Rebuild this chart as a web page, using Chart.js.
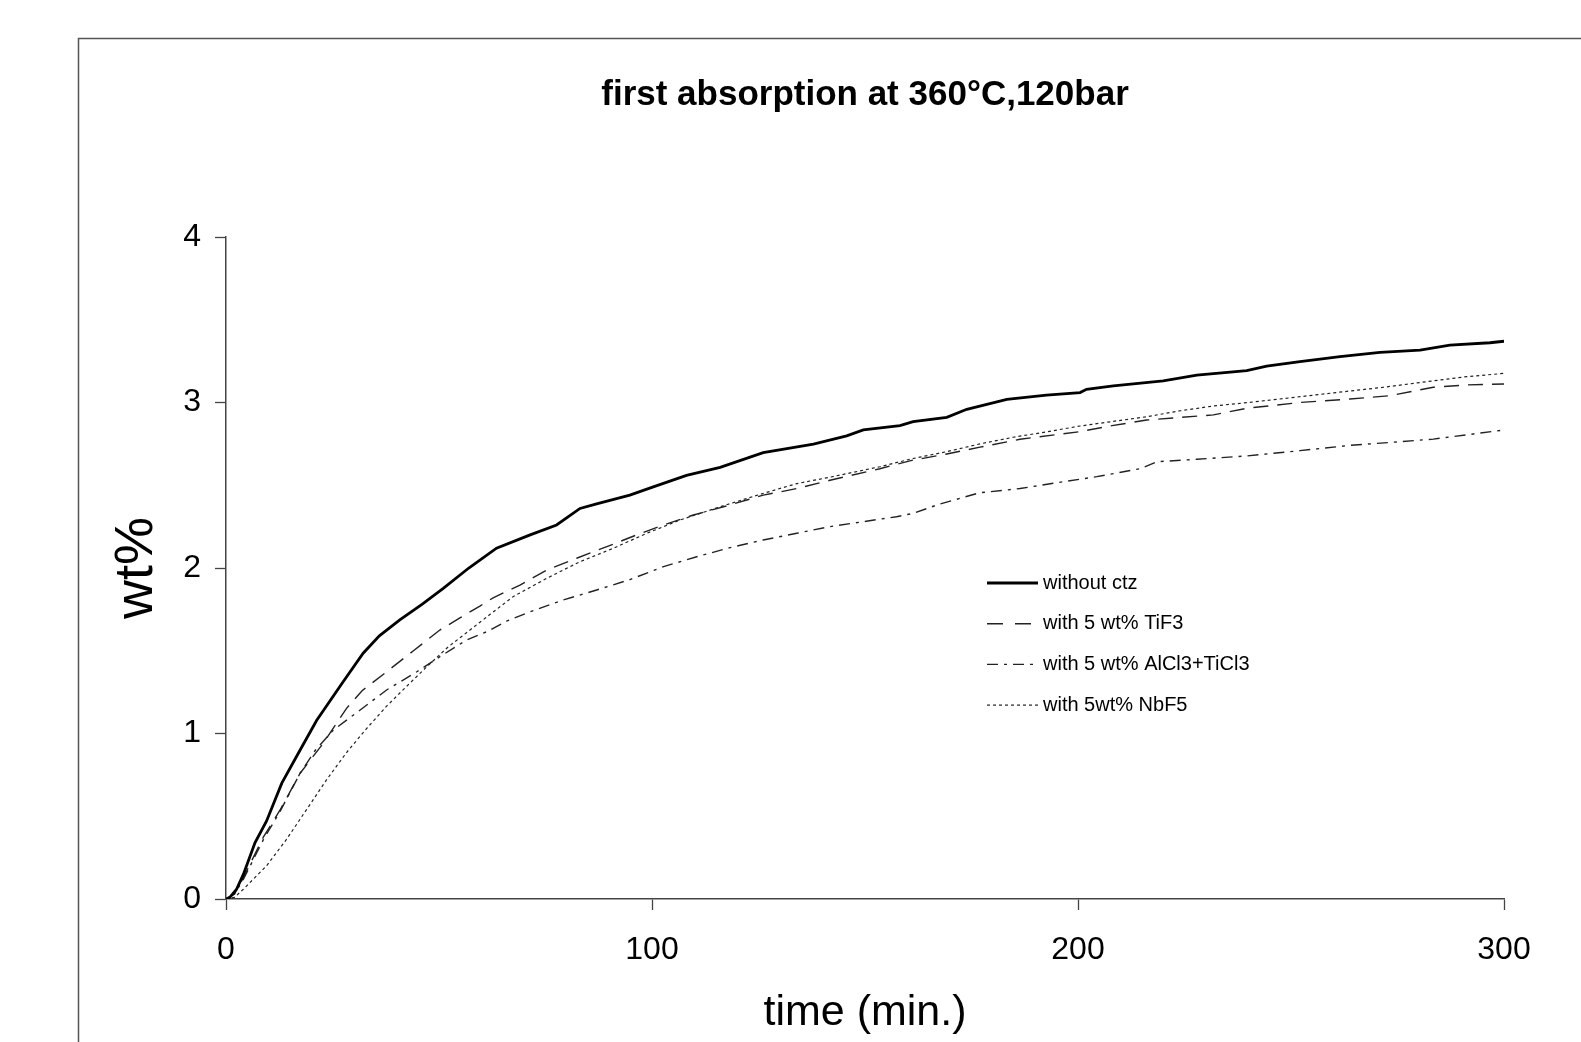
<!DOCTYPE html>
<html>
<head>
<meta charset="utf-8">
<script src="https://cdn.jsdelivr.net/npm/chart.js@4.4.1/dist/chart.umd.min.js"></script>
<style>
  html, body { margin: 0; padding: 0; background: #fff; }
  canvas { display: block; }
</style>
</head>
<body>
<canvas id="chart" width="1581" height="1042"></canvas>
<script>
// series labels, same order as the legend
const seriesLabels = ['without ctz', 'with 5 wt% TiF3', 'with 5 wt% AlCl3+TiCl3', 'with 5wt% NbF5'];

// [time (min.), wt%]
const withoutCtz = [
  [0, 0], [0.9, 0.01], [2.5, 0.06], [4.1, 0.15], [6.8, 0.34], [9.5, 0.47], [13.1, 0.70],
  [17.4, 0.90], [21.3, 1.08], [27.5, 1.313], [32.2, 1.485], [36, 1.59], [40.8, 1.686],
  [46, 1.78], [51, 1.877], [57, 2.0], [63.5, 2.12], [71.4, 2.20], [77.6, 2.26], [83.1, 2.36],
  [87, 2.387], [94.8, 2.44], [100.3, 2.49], [108.1, 2.56], [116, 2.608], [126.1, 2.697],
  [137.9, 2.749], [145.7, 2.798], [149.6, 2.834], [158.2, 2.86], [161.3, 2.884], [169.2, 2.91],
  [173.9, 2.959], [183.3, 3.019], [192.6, 3.045], [200.5, 3.06], [202, 3.08], [208.3, 3.10],
  [220, 3.13], [227.9, 3.166], [239.6, 3.192], [244.3, 3.22], [252.1, 3.247], [261.5, 3.277],
  [270.9, 3.303], [280.3, 3.317], [287.3, 3.347], [296.7, 3.361], [300, 3.37]
];
const withTiF3 = [
  [0, 0], [2, 0.03], [4.1, 0.13], [8.8, 0.376], [12.7, 0.538], [17.4, 0.76], [22.8, 0.94],
  [28.3, 1.152], [32, 1.26], [37.7, 1.373], [44, 1.50], [50.2, 1.625], [55, 1.70], [59.6, 1.77],
  [62.7, 1.82], [69, 1.897], [75.3, 1.988], [82.3, 2.059], [89.4, 2.129], [96.4, 2.20],
  [102.7, 2.26], [109.7, 2.32], [117.5, 2.375], [126.1, 2.44], [134, 2.48], [141.8, 2.53],
  [153.5, 2.60], [161, 2.65], [169.2, 2.689], [177, 2.73], [186.4, 2.778], [200.5, 2.824],
  [208, 2.86], [216.1, 2.894], [224, 2.91], [231.8, 2.925], [239.6, 2.965], [252.1, 3.0],
  [263.8, 3.021], [273.2, 3.041], [283.4, 3.092], [291.2, 3.106], [300, 3.112]
];
const withAlCl3TiCl3 = [
  [0, 0], [2, 0.03], [4.1, 0.12], [8.8, 0.36], [12.7, 0.53], [17.4, 0.76], [21, 0.90],
  [25.2, 1.021], [31.5, 1.142], [37.7, 1.263], [44.8, 1.373], [50.2, 1.464], [56.5, 1.565],
  [61.2, 1.615], [66, 1.68], [71.4, 1.736], [79.2, 1.807], [87, 1.867], [94.8, 1.93],
  [102.7, 2.008], [110.5, 2.068], [118.3, 2.123], [126.1, 2.169], [134, 2.21], [141.8, 2.25],
  [149.6, 2.28], [157.4, 2.31], [161.3, 2.33], [167.6, 2.387], [177, 2.455], [186.4, 2.48],
  [194.2, 2.512], [204.4, 2.552], [214.6, 2.60], [218.5, 2.642], [227.9, 2.657], [239.6, 2.677],
  [252.1, 2.709], [263.8, 2.741], [275.6, 2.763], [283.4, 2.779], [292.8, 2.81], [300, 2.834]
];
const withNbF5 = [
  [0, 0], [2, 0.01], [4.1, 0.06], [9.5, 0.20], [14.2, 0.36], [18.9, 0.54], [23.6, 0.72],
  [28.3, 0.885], [33, 1.03], [37.7, 1.165], [42.4, 1.285], [47, 1.40], [52, 1.52], [57, 1.62],
  [62, 1.72], [67.4, 1.827], [75.3, 1.938], [83.1, 2.038], [90.9, 2.119], [98.8, 2.21],
  [106.6, 2.29], [116, 2.37], [126, 2.45], [134, 2.51], [142, 2.55], [153.5, 2.612],
  [161, 2.66], [169.2, 2.703], [177, 2.75], [184.8, 2.79], [192, 2.82], [200.5, 2.858],
  [208, 2.885], [216.1, 2.914], [224, 2.95], [231.8, 2.979], [240, 3.0], [252.1, 3.035],
  [262.3, 3.065], [271.7, 3.092], [281.9, 3.126], [291.2, 3.156], [300, 3.176]
];

const xTicks = [0, 100, 200, 300];
const yTicks = [0, 1, 2, 3, 4];

const FONT = '"Liberation Sans", Arial, sans-serif';

const toPoints = (arr) => arr.map(([t, w]) => ({ x: t, y: w }));

// outer frame (only left and top edges show in the picture)
const frame = {
  id: 'frame',
  beforeDraw(chart) {
    const ctx = chart.ctx;
    ctx.save();
    ctx.strokeStyle = '#555';
    ctx.lineWidth = 1.5;
    ctx.beginPath();
    ctx.moveTo(78.5, chart.height);
    ctx.lineTo(78.5, 38.5);
    ctx.lineTo(chart.width, 38.5);
    ctx.stroke();
    ctx.restore();
  }
};

// legend sitting inside the plot
const insideLegend = {
  id: 'insideLegend',
  afterDatasetsDraw(chart, args, opts) {
    const ctx = chart.ctx;
    ctx.save();
    ctx.font = opts.font;
    ctx.textBaseline = 'middle';
    chart.data.datasets.forEach((ds, i) => {
      const y = opts.y + i * opts.rowGap;
      ctx.beginPath();
      ctx.setLineDash(ds.legendDash || ds.borderDash || []);
      ctx.lineWidth = ds.borderWidth;
      ctx.strokeStyle = ds.borderColor;
      ctx.moveTo(opts.x, y);
      ctx.lineTo(opts.x + opts.lineLen, y);
      ctx.stroke();
      ctx.setLineDash([]);
      ctx.fillStyle = '#000';
      ctx.fillText(ds.label, opts.x + opts.lineLen + 5, y);
    });
    ctx.restore();
  }
};

new Chart(document.getElementById('chart'), {
  type: 'line',
  data: {
    datasets: [
      {
        label: seriesLabels[0],
        data: toPoints(withoutCtz),
        borderColor: '#000',
        borderWidth: 2.8
      },
      {
        label: seriesLabels[1],
        data: toPoints(withTiF3),
        borderColor: '#222',
        borderWidth: 1.4,
        borderDash: [15, 9],
        legendDash: [16, 12]
      },
      {
        label: seriesLabels[2],
        data: toPoints(withAlCl3TiCl3),
        borderColor: '#222',
        borderWidth: 1.4,
        borderDash: [11, 6, 3, 6]
      },
      {
        label: seriesLabels[3],
        data: toPoints(withNbF5),
        borderColor: '#222',
        borderWidth: 1.2,
        borderDash: [3, 3]
      }
    ]
  },
  options: {
    responsive: false,
    animation: false,
    events: [],
    elements: {
      point: { radius: 0 },
      line: { tension: 0, fill: false }
    },
    layout: { padding: { top: 0, left: 0, right: 77, bottom: 0 } },
    scales: {
      x: {
        type: 'linear',
        min: 0,
        max: 300,
        afterBuildTicks: (s) => { s.ticks = xTicks.map(v => ({ value: v })); },
        afterFit: (s) => { s.height = 143; },
        ticks: { color: '#000', padding: 21, font: { family: FONT, size: 32 } },
        grid: { drawOnChartArea: false, drawTicks: true, tickLength: 11, tickColor: '#444', tickWidth: 1.3 },
        border: { display: true, color: '#444', width: 1.5 },
        title: {
          display: true,
          text: 'time (min.)',
          color: '#000',
          font: { family: FONT, size: 43 },
          padding: { top: 0, bottom: 3 }
        }
      },
      y: {
        min: 0,
        max: 4,
        afterBuildTicks: (s) => { s.ticks = yTicks.map(v => ({ value: v })); },
        afterFit: (s) => { s.width = 226; },
        ticks: { color: '#000', padding: 14, font: { family: FONT, size: 32 } },
        grid: { drawOnChartArea: false, drawTicks: true, tickLength: 11, tickColor: '#444', tickWidth: 1.3 },
        border: { display: true, color: '#444', width: 1.5 },
        title: {
          display: true,
          text: 'wt%',
          color: '#000',
          font: { family: FONT, size: 54 },
          padding: { top: 105, bottom: 0 }
        }
      }
    },
    plugins: {
      legend: { display: false },
      tooltip: { enabled: false },
      title: {
        display: true,
        text: 'first absorption at 360°C,120bar',
        color: '#000',
        fullSize: false,
        align: 'center',
        font: { family: FONT, size: 35, weight: 'bold', lineHeight: 1.2 },
        padding: { top: 74, bottom: 121 }
      },
      insideLegend: {
        x: 987,
        y: 583,
        rowGap: 40.7,
        lineLen: 51,
        font: '20px ' + FONT
      }
    }
  },
  plugins: [frame, insideLegend]
});
</script>
</body>
</html>
